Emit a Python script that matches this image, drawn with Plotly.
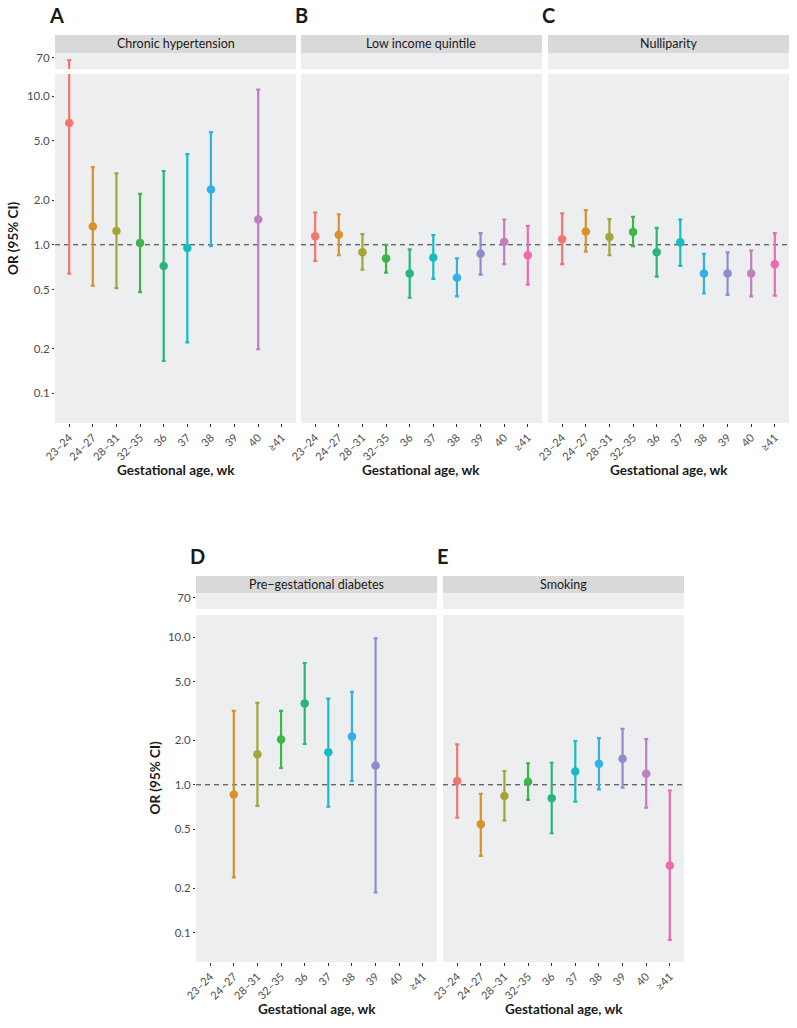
import numpy as np
import plotly.graph_objects as go

weeks = ['23–24', '24–27', '28–31', '32–35', '36', '37', '38', '39', '40', '≥41']
colors = ['#F2766E', '#D8912B', '#A3A536', '#3DB54A', '#2AB57A',
          '#14BCC4', '#33B0E8', '#8F8CCB', '#C27DBE', '#EE6AAE']

panels = ['Chronic hypertension', 'Low income quintile', 'Nulliparity',
          'Pre−gestational diabetes', 'Smoking']
letters = ['A', 'B', 'C', 'D', 'E']

# odds ratios with 95% CI (None = no estimate)
htn_or = [6.6, 1.33, 1.24, 1.03, 0.72, 0.95, 2.36, None, 1.48, None]
htn_lo = [0.64, 0.53, 0.51, 0.48, 0.165, 0.22, 0.98, None, 0.198, None]
htn_hi = [65, 3.33, 3.03, 2.2, 3.14, 4.08, 5.74, None, 11.1, None]

inc_or = [1.14, 1.17, 0.89, 0.81, 0.64, 0.82, 0.60, 0.87, 1.05, 0.85]
inc_lo = [0.78, 0.85, 0.68, 0.65, 0.44, 0.59, 0.45, 0.63, 0.74, 0.54]
inc_hi = [1.65, 1.60, 1.18, 1.0, 0.93, 1.16, 0.81, 1.20, 1.48, 1.34]

nul_or = [1.09, 1.23, 1.13, 1.22, 0.89, 1.04, 0.64, 0.64, 0.64, 0.74]
nul_lo = [0.74, 0.90, 0.85, 0.98, 0.61, 0.72, 0.47, 0.46, 0.45, 0.455]
nul_hi = [1.63, 1.71, 1.49, 1.54, 1.30, 1.48, 0.87, 0.89, 0.915, 1.20]

dm_or = [None, 0.86, 1.61, 2.03, 3.56, 1.66, 2.12, 1.35, None, None]
dm_lo = [None, 0.236, 0.72, 1.30, 1.89, 0.71, 1.06, 0.187, None, None]
dm_hi = [None, 3.17, 3.59, 3.17, 6.68, 3.84, 4.26, 9.8, None, None]

smk_or = [1.06, 0.54, 0.84, 1.05, 0.81, 1.23, 1.39, 1.50, 1.19, 0.284]
smk_lo = [0.60, 0.33, 0.575, 0.79, 0.47, 0.77, 0.93, 0.955, 0.70, 0.089]
smk_hi = [1.88, 0.87, 1.24, 1.40, 1.41, 1.98, 2.07, 2.39, 2.04, 0.915]

ors = [htn_or, inc_or, nul_or, dm_or, smk_or]
los = [htn_lo, inc_lo, nul_lo, dm_lo, smk_lo]
his = [htn_hi, inc_hi, nul_hi, dm_hi, smk_hi]

y_ticks = [0.1, 0.2, 0.5, 1, 2, 5, 10]
y_ticktext = ['0.1', '0.2', '0.5', '1.0', '2.0', '5.0', '10.0']
top_ticks = [70]
top_ticktext = ['70']

W, H = 797, 1028
FONT = 'Lato'


def fx(px):
    return px / W


def fy(py):
    return 1 - py / H


# panel pixel boxes: x0, x1, strip top, upper top, upper bottom, lower top, lower bottom
boxes = [
    (55, 296, 35, 53, 69, 74, 423),
    (301, 542, 35, 53, 69, 74, 423),
    (548, 789, 35, 53, 69, 74, 423),
    (196, 437, 576, 593, 609, 615, 962),
    (443, 684, 576, 593, 609, 615, 962),
]

fig = go.Figure()
layout = {}
shapes = []
annotations = []

for p in range(5):
    x0, x1, st, ut, ub, lt, lb = boxes[p]
    lo_id = 2 * p + 1
    up_id = 2 * p + 2
    lo_sfx = '' if lo_id == 1 else str(lo_id)
    up_sfx = str(up_id)
    show_y = p in (0, 3)

    layout['xaxis' + lo_sfx] = dict(
        domain=[fx(x0), fx(x1)], anchor='y' + lo_sfx, range=[-0.6, 9.6],
        tickvals=list(range(10)), ticktext=weeks, tickangle=-45,
        ticks='outside', ticklen=3, tickcolor='#333333',
        tickfont=dict(size=11, color='#4D4D4D'), automargin=False,
        showgrid=False, zeroline=False, showline=False)
    layout['yaxis' + lo_sfx] = dict(
        domain=[fy(lb), fy(lt)], anchor='x' + lo_sfx, type='log',
        range=[-1.2, 1.15], tickvals=y_ticks, ticktext=y_ticktext,
        showticklabels=show_y, ticks='outside' if show_y else '',
        ticklen=2, tickcolor='#333333', automargin=False,
        tickfont=dict(size=11.5, color='#4D4D4D'),
        showgrid=False, zeroline=False, showline=False)
    layout['xaxis' + up_sfx] = dict(
        domain=[fx(x0), fx(x1)], anchor='y' + up_sfx, range=[-0.6, 9.6],
        visible=False, automargin=False)
    layout['yaxis' + up_sfx] = dict(
        domain=[fy(ub), fy(ut)], anchor='x' + up_sfx, type='log',
        range=[np.log10(50), np.log10(80)], tickvals=top_ticks,
        ticktext=top_ticktext, showticklabels=show_y, automargin=False,
        ticks='outside' if show_y else '', ticklen=2, tickcolor='#333333',
        tickfont=dict(size=11.5, color='#4D4D4D'),
        showgrid=False, zeroline=False, showline=False)

    # reference line at OR = 1
    shapes.append(dict(type='line', xref='x' + lo_sfx + ' domain', yref='y' + lo_sfx,
                       x0=0, x1=1, y0=1, y1=1, layer='below',
                       line=dict(color='#333333', width=1, dash='5px,4px')))
    # strip
    shapes.append(dict(type='rect', xref='paper', yref='paper',
                       x0=fx(x0), x1=fx(x1), y0=fy(ut), y1=fy(st),
                       fillcolor='#D9D9D9', line=dict(width=0)))
    annotations.append(dict(text=panels[p], xref='paper', yref='paper',
                            x=fx((x0 + x1) / 2), y=fy((st + ut) / 2),
                            showarrow=False, xanchor='center', yanchor='middle',
                            font=dict(size=12.5, color='#1A1A1A')))
    # panel letter
    annotations.append(dict(text='<b>' + letters[p] + '</b>', xref='paper', yref='paper',
                            x=fx(x0 - 8), y=fy(st - 20), showarrow=False,
                            xanchor='left', yanchor='middle',
                            font=dict(size=20, color='#1A1A1A')))
    # x title
    annotations.append(dict(text='<b>Gestational age, wk</b>', xref='paper', yref='paper',
                            x=fx((x0 + x1) / 2), y=fy(lb + 47), showarrow=False,
                            xanchor='center', yanchor='middle',
                            font=dict(size=13.5, color='#1A1A1A')))
    if show_y:
        annotations.append(dict(text='<b>OR (95% CI)</b>', xref='paper', yref='paper',
                                x=fx(x0 - 42), y=fy((ut + lb) / 2), showarrow=False,
                                textangle=-90, xanchor='center', yanchor='middle',
                                font=dict(size=13.5, color='#1A1A1A')))

    for k in range(10):
        v = ors[p][k]
        if v is None:
            continue
        for sfx in (lo_sfx, up_sfx):
            fig.add_trace(go.Scatter(
                x=[k], y=[v], mode='markers',
                marker=dict(color=colors[k], size=8.5),
                error_y=dict(type='data', symmetric=False,
                             array=[his[p][k] - v], arrayminus=[v - los[p][k]],
                             color=colors[k], thickness=2.2, width=2),
                xaxis='x' + sfx, yaxis='y' + sfx, showlegend=False,
                hoverinfo='skip'))

fig.update_layout(**layout)
fig.update_layout(
    width=W, height=H, margin=dict(l=0, r=0, t=0, b=0, pad=0, autoexpand=False),
    paper_bgcolor='white', plot_bgcolor='#EDEEF0',
    font=dict(family=FONT, color='#1A1A1A'),
    shapes=shapes, annotations=annotations, showlegend=False)

# drop the default page margin so the figure fills the window exactly
fig.write_html('out.html', config={'displayModeBar': False},
               post_script="document.body.style.margin='0';"
                           "document.body.style.overflow='hidden';")
